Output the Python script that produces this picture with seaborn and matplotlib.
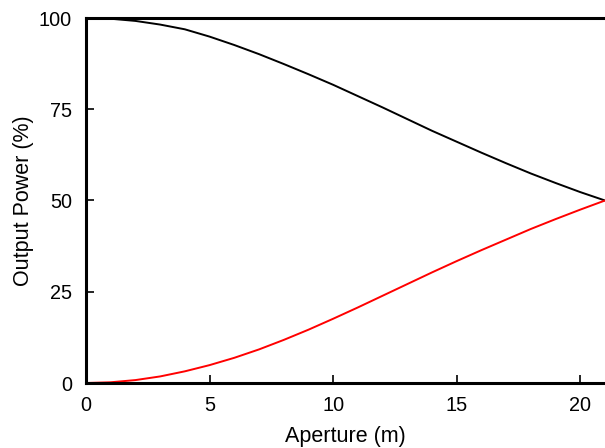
import numpy as np
import pandas as pd
import seaborn as sns
import matplotlib
matplotlib.use("Agg")
import matplotlib.pyplot as plt

# %% data
aperture = [0, 1, 2, 3, 4, 5, 6, 7, 8, 9, 10, 11, 12, 13, 14, 15, 16, 17, 18, 19, 20, 21]
power_through = [100, 99.8, 99.2, 98.2, 96.9, 94.9, 92.6, 90.1, 87.4, 84.6, 81.7, 78.6,
                 75.5, 72.3, 69.1, 66.1, 63.1, 60.2, 57.4, 54.8, 52.3, 50.0]
power_coupled = [0, 0.2, 0.8, 1.8, 3.2, 4.9, 6.9, 9.2, 11.8, 14.6, 17.6, 20.7,
                 23.9, 27.1, 30.3, 33.4, 36.4, 39.3, 42.2, 44.9, 47.5, 50.0]
yticks = [0, 25, 50, 75, 100]
xticks = [0, 5, 10, 15, 20]

df = pd.DataFrame({'x': aperture * 2,
                   'y': power_through + power_coupled,
                   'curve': ['through'] * len(aperture) + ['coupled'] * len(aperture)})

sns.set_style("ticks")
plt.rcParams['font.family'] = ['Liberation Sans', 'DejaVu Sans']
plt.rcParams['text.color'] = 'black'
plt.rcParams['axes.labelcolor'] = 'black'
plt.rcParams['xtick.color'] = 'black'
plt.rcParams['ytick.color'] = 'black'
plt.rcParams['xtick.direction'] = 'in'  # 刻度朝内
plt.rcParams['ytick.direction'] = 'in'
plt.rcParams['xtick.major.size'] = 5.5
plt.rcParams['ytick.major.size'] = 5.5
plt.rcParams['xtick.major.width'] = 1.2
plt.rcParams['ytick.major.width'] = 1.2

fig = plt.figure(figsize=(6.05, 4.48), dpi=100)
ax = fig.add_axes([86 / 605, 65 / 448, 1 - 86 / 605, 365 / 448])

sns.lineplot(data=df, x='x', y='y', hue='curve', palette={'through': 'black', 'coupled': 'red'},
             linewidth=1.4, legend=False, ax=ax, clip_on=False)

ax.set_xlim(0, 21)
ax.set_ylim(0, 100)
ax.set_xticks(xticks)
ax.set_yticks(yticks)
ax.tick_params(labelsize=14.3, pad=9, bottom=True, left=True, top=False, right=False)
ax.tick_params(axis='y', pad=10)
for s in ['left', 'top', 'bottom']:
    ax.spines[s].set_linewidth(2.2)
    ax.spines[s].set_color('black')
ax.spines['right'].set_visible(False)

ax.set_xlabel('Aperture (m)', fontsize=15.5)
ax.set_ylabel('Output Power (%)', fontsize=15.5)
ax.xaxis.set_label_coords(0.5, -0.118)
ax.yaxis.set_label_coords(-0.100, 0.5)

fig.savefig('out.png', dpi=100)
